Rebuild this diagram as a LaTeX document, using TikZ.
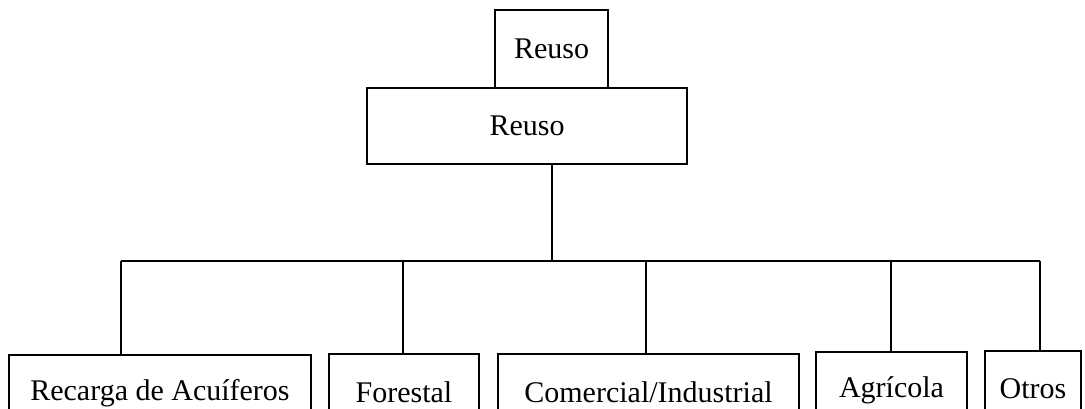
\documentclass[tikz,border=0pt]{standalone}
\usepackage{fontspec}
\setmainfont{Liberation Serif}
\begin{document}
\begin{tikzpicture}[x=1pt,y=-1pt,
  box/.style={draw,line width=2pt,inner sep=0pt,font=\fontsize{30}{36}\selectfont,anchor=north west},
  link/.style={line width=2pt}]
\clip (0,0) rectangle (1085,408);
\useasboundingbox (0,0) rectangle (1085,408);
% upper boxes
\node[box,minimum width=113pt,minimum height=78pt] (top) at (494,9) {Reuso};
\node[box,minimum width=320pt,minimum height=76pt] (reuso) at (366,87) {Reuso};
% lower boxes
\node[box,minimum width=302pt,minimum height=76pt] (recarga) at (8,354) {Recarga de Acuíferos};
\node[box,minimum width=150pt,minimum height=76pt] (forestal) at (328,353) {Forestal};
\node[box,minimum width=301pt,minimum height=76pt] (comercial) at (497,353) {Comercial/Industrial};
\node[box,minimum width=151pt,minimum height=76pt] (agricola) at (815,351) {Agrícola};
\node[box,minimum width=96pt,minimum height=76pt] (otros) at (984,350) {Otros};
% bus line and drop points
\coordinate (d1) at (121,261);
\coordinate (d2) at (403,261);
\coordinate (d3) at (646,261);
\coordinate (d4) at (891,261);
\coordinate (d5) at (1040,261);
\draw[link] (top.center |- reuso.south) -- (top.center |- d1);
\draw[link] (d1) -- (d5);
\draw[link] (d1) -- (d1 |- recarga.north);
\draw[link] (d2) -- (d2 |- forestal.north);
\draw[link] (d3) -- (d3 |- comercial.north);
\draw[link] (d4) -- (d4 |- agricola.north);
\draw[link] (d5) -- (d5 |- otros.north);
\end{tikzpicture}
\end{document}
